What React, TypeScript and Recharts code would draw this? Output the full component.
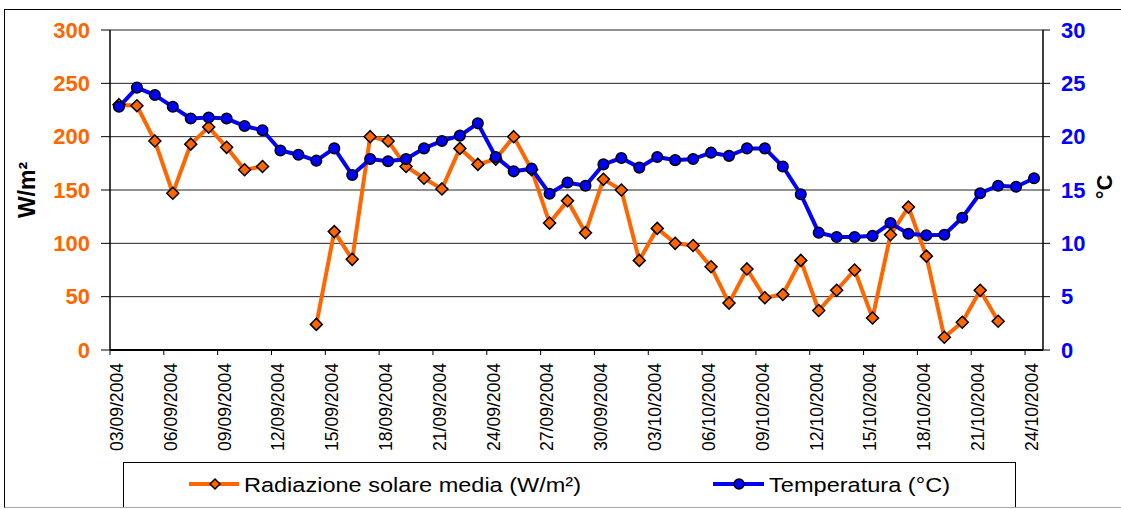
import React from 'react';
import { LineChart, Line, XAxis, YAxis, CartesianGrid, Legend } from 'recharts';

const dates = [
  '03/09/2004', '04/09/2004', '05/09/2004', '06/09/2004', '07/09/2004', '08/09/2004', '09/09/2004',
  '10/09/2004', '11/09/2004', '12/09/2004', '13/09/2004', '14/09/2004', '15/09/2004', '16/09/2004',
  '17/09/2004', '18/09/2004', '19/09/2004', '20/09/2004', '21/09/2004', '22/09/2004', '23/09/2004',
  '24/09/2004', '25/09/2004', '26/09/2004', '27/09/2004', '28/09/2004', '29/09/2004', '30/09/2004',
  '01/10/2004', '02/10/2004', '03/10/2004', '04/10/2004', '05/10/2004', '06/10/2004', '07/10/2004',
  '08/10/2004', '09/10/2004', '10/10/2004', '11/10/2004', '12/10/2004', '13/10/2004', '14/10/2004',
  '15/10/2004', '16/10/2004', '17/10/2004', '18/10/2004', '19/10/2004', '20/10/2004', '21/10/2004',
  '22/10/2004', '23/10/2004', '24/10/2004',
];

const radiazione: (number | null)[] = [
  230, 229, 196, 147, 193, 209, 190, 169, 172, null,
  null, 24, 111, 85, 200, 196, 172, 161, 151, 189,
  174, 179, 200, 169, 119, 140, 110, 160, 150, 84,
  114, 100, 98, 78, 44, 76, 49, 52, 84, 37,
  56, 75, 30, 108, 134, 88, 12, 26, 56, 27,
  null, null,
];

const temperatura: number[] = [
  22.8, 24.6, 23.9, 22.8, 21.7, 21.8, 21.7, 21.0, 20.6, 18.7,
  18.3, 17.75, 18.9, 16.4, 17.9, 17.7, 17.9, 18.9, 19.6, 20.1,
  21.25, 18.1, 16.75, 17.0, 14.65, 15.7, 15.4, 17.4, 18.0, 17.1,
  18.1, 17.8, 17.9, 18.5, 18.2, 18.9, 18.9, 17.2, 14.6, 11.0,
  10.6, 10.6, 10.7, 11.9, 10.9, 10.75, 10.8, 12.4, 14.7, 15.4,
  15.3, 16.1,
];

const leftTicks = [0, 50, 100, 150, 200, 250, 300];
const rightTicks = [0, 5, 10, 15, 20, 25, 30];

const seriesRad = 'Radiazione solare media (W/m²)';
const seriesTemp = 'Temperatura (°C)';

const data = dates.map((d, i) => ({ date: d, rad: radiazione[i], temp: temperatura[i] }));

const FONT = '"Liberation Sans", Arial, sans-serif';
const ORANGE = '#FF6600';
const BLUE = '#0000FF';
const W = 1121;
const H = 509;
const PLOT_LEFT = 110;
const PLOT_RIGHT = 1043;
const BAND = (PLOT_RIGHT - PLOT_LEFT) / dates.length;

const XTick = (props: any) => {
  const { x, y, payload } = props;
  const bx = x - BAND / 2;
  return (
    <g>
      <line x1={bx} x2={bx} y1={y - 13} y2={y - 8} stroke="#000" strokeWidth={1} />
      <text
        transform={`translate(${x},${y}) rotate(-90)`}
        textAnchor="end"
        dy="0.22em"
        fontFamily={FONT}
        fontSize={17.6}
        fill="#000"
      >
        {payload.value}
      </text>
    </g>
  );
};

const Diamond = (props: any) => {
  const { cx, cy, index } = props;
  if (cx == null || cy == null || props.value == null) return <g key={`d${index}`} />;
  const s = 6;
  return (
    <polygon
      key={`d${index}`}
      points={`${cx},${cy - s} ${cx + s},${cy} ${cx},${cy + s} ${cx - s},${cy}`}
      fill={ORANGE}
      stroke="#000"
      strokeWidth={1.5}
    />
  );
};

const Circle = (props: any) => {
  const { cx, cy, index } = props;
  if (cx == null || cy == null) return <g key={`c${index}`} />;
  return <circle key={`c${index}`} cx={cx} cy={cy} r={5.3} fill={BLUE} stroke="#000" strokeWidth={1.5} />;
};

const renderLegend = () => (
  <svg width={W} height={45} style={{ display: 'block' }}>
    <rect x={123.5} y={0.5} width={892} height={60} fill="#fff" stroke="#000" strokeWidth={1} />
    <line x1={189} x2={239} y1={22} y2={22} stroke={ORANGE} strokeWidth={4} />
    <polygon points="215,17 220,22 215,27 210,22" fill={ORANGE} stroke="#000" strokeWidth={1.5} />
    <text x={244} y={30} fontFamily={FONT} fontSize={20.5} fill="#000" textLength={337} lengthAdjust="spacingAndGlyphs">
      {seriesRad}
    </text>
    <line x1={713} x2={764} y1={22} y2={22} stroke={BLUE} strokeWidth={4} />
    <circle cx={739} cy={22} r={5} fill={BLUE} stroke="#000" strokeWidth={1.5} />
    <text x={769} y={30} fontFamily={FONT} fontSize={20.5} fill="#000" textLength={181} lengthAdjust="spacingAndGlyphs">
      {seriesTemp}
    </text>
  </svg>
);

const LeftTitle = (props: any) => {
  const vb = props.viewBox || { x: 0, y: 30, width: 110, height: 320 };
  const cx = vb.x + 27;
  const cy = vb.y + vb.height / 2;
  return (
    <text
      transform={`translate(${cx},${cy}) rotate(-90)`}
      textAnchor="middle"
      dy="0.36em"
      fontFamily={FONT}
      fontSize={23}
      fontWeight="bold"
      fill="#000"
    >
      W/m²
    </text>
  );
};

const RightTitle = (props: any) => {
  const vb = props.viewBox || { x: 1043, y: 30, width: 78, height: 320 };
  const cx = vb.x + 61;
  const cy = vb.y + vb.height / 2 - 3;
  return (
    <text
      transform={`translate(${cx},${cy}) rotate(-90)`}
      textAnchor="middle"
      dy="0.36em"
      fontFamily={FONT}
      fontSize={22}
      fontWeight="bold"
      fill="#000"
    >
      °C
    </text>
  );
};

export default function App() {
  return (
    <div style={{ position: 'absolute', left: 0, top: 0, width: W, height: H, overflow: 'hidden', background: '#fff' }}>
      <div
        style={{
          position: 'absolute',
          left: 4,
          top: 9,
          width: 1140,
          height: 497,
          borderLeft: '1px solid #000',
          borderTop: '1px solid #000',
          borderBottom: '1px solid #aaa',
        }}
      />
      <LineChart width={W} height={H} data={data} margin={{ top: 30, right: 0, bottom: 2, left: 0 }}>
        <CartesianGrid yAxisId="left" vertical={false} horizontal stroke="#222" strokeWidth={1} />
        <XAxis
          dataKey="date"
          interval={2}
          height={112}
          padding={{ left: BAND / 2, right: BAND / 2 }}
          tickLine={false}
          tickSize={5}
          tickMargin={8}
          tick={<XTick />}
          axisLine={{ stroke: '#000', strokeWidth: 2 }}
        />
        <YAxis
          yAxisId="left"
          orientation="left"
          width={110}
          domain={[0, 300]}
          ticks={leftTicks}
          interval={0}
          tickSize={9}
          tickMargin={11}
          tickLine={{ stroke: '#000' }}
          axisLine={{ stroke: '#000', strokeWidth: 1.5 }}
          tick={{ fill: ORANGE, fontSize: 22, fontWeight: 'bold', fontFamily: FONT }}
          label={<LeftTitle />}
        />
        <YAxis
          yAxisId="right"
          orientation="right"
          width={78}
          domain={[0, 30]}
          ticks={rightTicks}
          interval={0}
          tickSize={7}
          tickMargin={11}
          tickLine={{ stroke: '#000' }}
          axisLine={{ stroke: '#000', strokeWidth: 1.5 }}
          tick={{ fill: BLUE, fontSize: 22, fontWeight: 'bold', fontFamily: FONT }}
          label={<RightTitle />}
        />
        <Legend
          verticalAlign="bottom"
          align="left"
          height={45}
          content={renderLegend}
          wrapperStyle={{ left: 0, width: W }}
        />
        <Line
          yAxisId="left"
          name={seriesRad}
          dataKey="rad"
          stroke={ORANGE}
          strokeWidth={4}
          dot={<Diamond />}
          activeDot={false}
          connectNulls={false}
          isAnimationActive={false}
        />
        <Line
          yAxisId="right"
          name={seriesTemp}
          dataKey="temp"
          stroke={BLUE}
          strokeWidth={4}
          dot={<Circle />}
          activeDot={false}
          isAnimationActive={false}
        />
      </LineChart>
    </div>
  );
}
